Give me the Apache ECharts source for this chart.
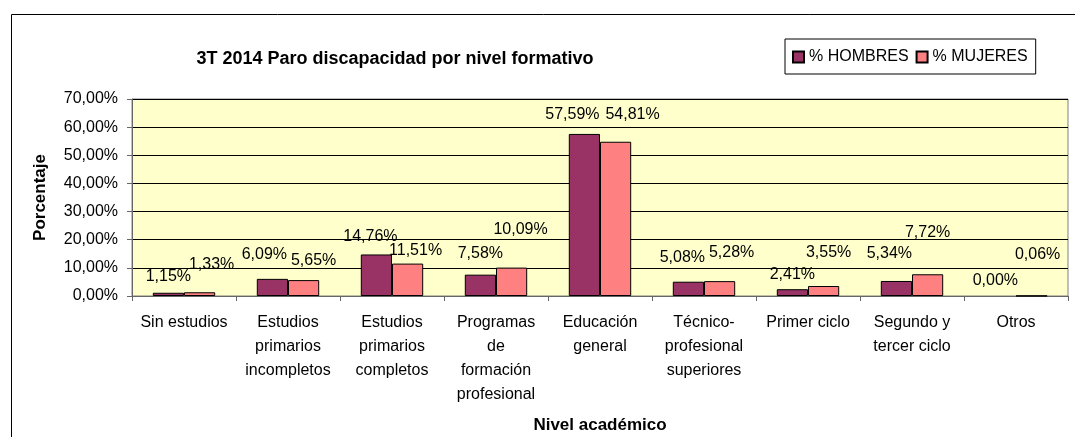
<!DOCTYPE html>
<html>
<head>
<meta charset="utf-8">
<title>3T 2014 Paro discapacidad por nivel formativo</title>
<script src="https://cdn.jsdelivr.net/npm/echarts@6/dist/echarts.min.js"></script>
<style>
    html, body { margin: 0; padding: 0; background: #fff; }
    #chart { width: 1075px; height: 437px; }
</style>
</head>
<body>
<div id="chart"></div>
<script>
    // niveles formativos (eje x)
    var niveles = [
        'Sin estudios',
        'Estudios\nprimarios\nincompletos',
        'Estudios\nprimarios\ncompletos',
        'Programas\nde\nformación\nprofesional',
        'Educación\ngeneral',
        'Técnico-\nprofesional\nsuperiores',
        'Primer ciclo',
        'Segundo y\ntercer ciclo',
        'Otros'
    ];
    // porcentajes
    var hombres = [1.15, 6.09, 14.76, 7.58, 57.59, 5.08, 2.41, 5.34, 0.00];
    var mujeres = [1.33, 5.65, 11.51, 10.09, 54.81, 5.28, 3.55, 7.72, 0.06];
    // eje y
    var yMin = 0, yMax = 70, yPaso = 10;

    // desplazamiento de las etiquetas [dx, subida], como en el original
    var hombresEtiq = [[0, 16], [-8, 24], [-6, 18], [0, 21], [-12, 19], [-6, 24], [0, 15], [-7, 27], [-5, 15]];
    var mujeresEtiq = [[12, 28], [10, 20], [8, 13], [9, 38], [17, 27], [12, 29], [5, 33], [0, 42], [6, 41]];

    var fuente = "'Liberation Sans', Arial, sans-serif";

    function pct(v) {
        return v.toFixed(2).replace('.', ',') + '%';
    }

    function conEtiquetas(valores, etiq) {
        return valores.map(function (v, i) {
            var item = {value: v, label: {offset: [etiq[i][0], -etiq[i][1]]}};
            // barra de 0: sin borde
            if (v === 0) {
                item.itemStyle = {borderWidth: 0};
            }
            return item;
        });
    }

    var chart = echarts.init(document.getElementById('chart'));
    var option = {
        animation: false,
        textStyle: {fontFamily: fuente, color: '#000'},
        title: {
            text: '3T 2014 Paro discapacidad por nivel formativo',
            left: 395,
            top: 50,
            padding: 0,
            textAlign: 'center',
            textStyle: {fontFamily: fuente, fontSize: 18, fontWeight: 'bold', color: '#000'}
        },
        legend: {
            left: 785,
            top: 39,
            padding: [10, 8, 9, 7],
            itemWidth: 11,
            itemHeight: 11,
            itemGap: 7,
            icon: 'rect',
            borderColor: '#000',
            borderWidth: 1,
            textStyle: {fontFamily: fuente, fontSize: 16, color: '#000', lineHeight: 16}
        },
        graphic: [{
            type: 'rect',
            silent: true,
            shape: {x: 11.5, y: 14.5, width: 1200, height: 600},
            style: {fill: 'none', stroke: '#000', lineWidth: 1}
        }],
        grid: {
            left: 132,
            right: 7,
            top: 99,
            bottom: 141,
            outerBoundsMode: 'none',
            show: true,
            backgroundColor: '#FFFFCC',
            borderColor: '#808080',
            borderWidth: 1
        },
        xAxis: {
            type: 'category',
            data: niveles,
            name: 'Nivel académico',
            nameLocation: 'middle',
            nameGap: 121,
            nameTextStyle: {fontFamily: fuente, fontSize: 17, fontWeight: 'bold', color: '#000'},
            axisLine: {lineStyle: {color: '#666'}},
            axisTick: {show: true, length: 5, lineStyle: {color: '#666'}},
            axisLabel: {
                interval: 0,
                margin: 15,
                fontFamily: fuente,
                fontSize: 16,
                lineHeight: 24,
                color: '#000'
            }
        },
        yAxis: {
            type: 'value',
            min: yMin,
            max: yMax,
            interval: yPaso,
            name: 'Porcentaje',
            nameLocation: 'middle',
            nameGap: 83,
            nameTextStyle: {fontFamily: fuente, fontSize: 17, fontWeight: 'bold', color: '#000'},
            axisLine: {show: true, lineStyle: {color: '#666'}},
            axisTick: {show: true, length: 5, lineStyle: {color: '#666'}},
            splitLine: {lineStyle: {color: '#000', width: 1}},
            axisLabel: {
                margin: 14,
                fontFamily: fuente,
                fontSize: 16,
                color: '#000',
                formatter: function (v) { return pct(v); }
            }
        },
        series: [
            {
                name: '% HOMBRES',
                type: 'bar',
                data: conEtiquetas(hombres, hombresEtiq),
                barGap: '0%',
                barCategoryGap: '40%',
                itemStyle: {color: '#993366', borderColor: '#000', borderWidth: 1},
                label: {
                    show: true,
                    position: 'top',
                    distance: 0,
                    verticalAlign: 'middle',
                    fontFamily: fuente,
                    fontSize: 16,
                    color: '#000',
                    formatter: function (p) { return pct(p.value); }
                }
            },
            {
                name: '% MUJERES',
                type: 'bar',
                data: conEtiquetas(mujeres, mujeresEtiq),
                barGap: '0%',
                barCategoryGap: '40%',
                itemStyle: {color: '#FF8080', borderColor: '#000', borderWidth: 1},
                label: {
                    show: true,
                    position: 'top',
                    distance: 0,
                    verticalAlign: 'middle',
                    fontFamily: fuente,
                    fontSize: 16,
                    color: '#000',
                    formatter: function (p) { return pct(p.value); }
                }
            }
        ]
    };
    chart.setOption(option);
</script>
</body>
</html>
